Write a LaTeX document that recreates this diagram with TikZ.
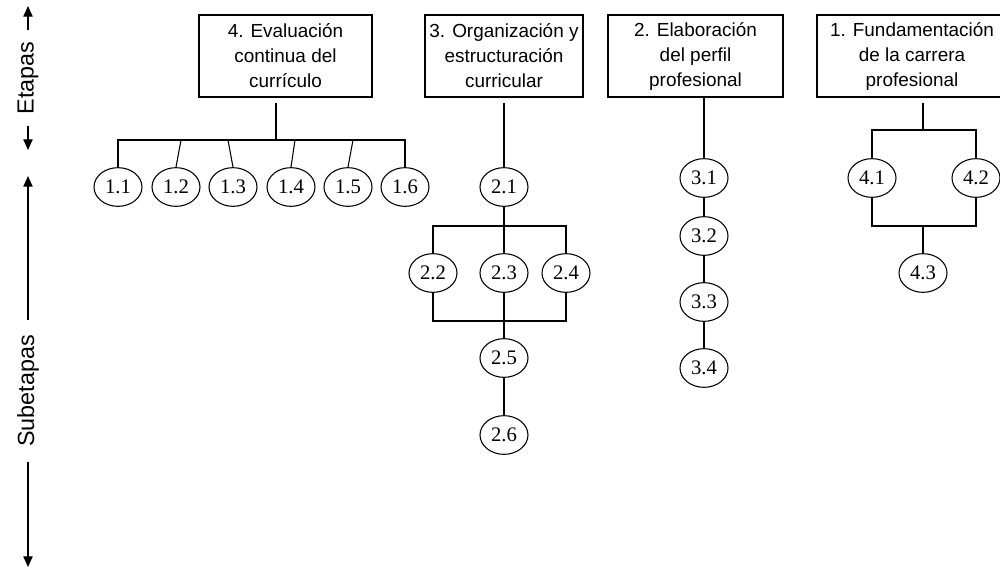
\documentclass[tikz,border=0pt]{standalone}
\usepackage{fontspec}
\setmainfont{Liberation Sans}
\newfontfamily\numfont{Liberation Serif}
\usetikzlibrary{arrows.meta,shapes.geometric}

\begin{document}
\begin{tikzpicture}[x=0.75pt,y=-0.75pt,line width=0.8pt,
  stage/.style={draw,align=center,minimum height=61.5pt,inner sep=0pt,
    font=\fontsize{14.2}{18.75}\selectfont},
  sub/.style={draw,ellipse,minimum width=36pt,minimum height=29pt,inner sep=0pt,
    font=\numfont\fontsize{15.5}{15.5}\selectfont},
  axislabel/.style={rotate=90,inner ysep=0pt,font=\fontsize{17.5}{17.5}\selectfont},
  tip/.style={-{Triangle[length=8pt,width=7pt]}}]
  \clip (0,0) rectangle (1000,568);

  % ejes
  \node[axislabel,inner xsep=8pt] (etapas) at (28,78) {Etapas};
  \node[axislabel,inner xsep=11pt] (subetapas) at (28,391) {Subetapas};
  \coordinate (etop) at (28,6);
  \coordinate (ebot) at (28,150);
  \coordinate (stop) at (28,176);
  \coordinate (sbot) at (28,567);
  \draw[tip] (etapas) -- (etop);
  \draw[tip] (etapas) -- (ebot);
  \draw[tip] (subetapas) -- (stop);
  \draw[tip] (subetapas) -- (sbot);

  % etapas
  \node[stage,minimum width=129.75pt] (e4) at (285.5,56) {4. Evaluación\\continua del\\currículo};
  \node[stage,minimum width=118.5pt] (e3) at (504,56) {3. Organización y\\estructuración\\curricular};
  \node[stage,minimum width=131.25pt] (e2) at (695.5,56) {2. Elaboración\\del perfil\\profesional};
  \node[stage,minimum width=142.5pt] (e1) at (912,56) {1. Fundamentación\\de la carrera\\profesional};

  % subetapas 4
  \foreach \i/\x in {1/118,2/176,3/233,4/291,5/348,6/405}
    \node[sub] (n1\i) at (\x,187) {1.\i};
  \coordinate (b4) at (276,140);
  \draw[shorten <=4pt] (e4.south -| b4) -- (b4);
  \draw (n11.north) |- (b4) -| (n16.north);
  \foreach \i/\d in {2/3.75,3/-3.75,4/3,5/3.75}
    \draw (n1\i.north) -- ([xshift=\d pt]n1\i.north |- b4);

  % subetapas 3
  \node[sub] (n21) at (504,187) {2.1};
  \node[sub] (n22) at (433,273) {2.2};
  \node[sub] (n23) at (504,273) {2.3};
  \node[sub] (n24) at (566,273) {2.4};
  \node[sub] (n25) at (504,358) {2.5};
  \node[sub] (n26) at (504,435) {2.6};
  \coordinate (t3) at (504,226);
  \coordinate (u3) at (504,321);
  \draw[shorten <=4pt] (e3.south -| n21) -- (n21);
  \draw (n21) -- (n23);
  \draw (n22.north) |- (t3) -| (n24.north);
  \draw (n22.south) |- (u3) -| (n24.south);
  \draw (n23) -- (n25);
  \draw (n25) -- (n26);

  % subetapas 2
  \foreach \i/\y in {1/178,2/236,3/302,4/368}
    \node[sub] (n3\i) at (704,\y) {3.\i};
  \draw (e2.south -| n31) -- (n31);
  \draw (n31) -- (n32);
  \draw (n32) -- (n33);
  \draw (n33) -- (n34);

  % subetapas 1
  \node[sub] (n41) at (872,178) {4.1};
  \node[sub] (n42) at (976,178) {4.2};
  \node[sub] (n43) at (923,273) {4.3};
  \coordinate (t1) at (923,130);
  \coordinate (u1) at (923,226);
  \draw[shorten <=4pt] (e1.south -| t1) -- (t1);
  \draw (n41.north) |- (t1) -| (n42.north);
  \draw (n41.south) |- (u1) -| (n42.south);
  \draw (u1) -- (n43);
\end{tikzpicture}
\end{document}
